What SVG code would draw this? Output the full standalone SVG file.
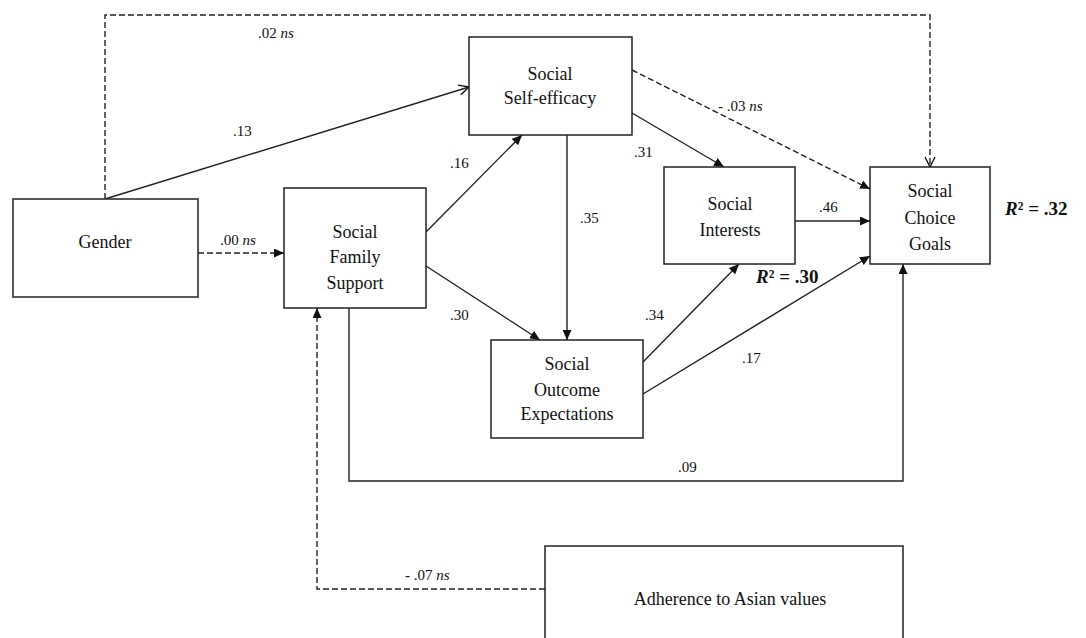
<svg xmlns="http://www.w3.org/2000/svg" width="1086" height="638" viewBox="0 0 1086 638">
<style>
.box{fill:#fff;stroke:#222;stroke-width:1.5}
.nt{font-family:"Liberation Serif","Times New Roman",serif;font-size:18px;fill:#111;text-anchor:middle}
.lb{font-family:"Liberation Serif","Times New Roman",serif;font-size:15px;fill:#111}
.r2{font-family:"Liberation Serif","Times New Roman",serif;font-size:19px;font-weight:bold;fill:#111}
.c{fill:none;stroke:#222;stroke-width:1.4}
.d{stroke-dasharray:6,3}
.f{marker-end:url(#fa)}
.o{marker-end:url(#oa)}
</style>
<defs>
<marker id="fa" markerUnits="userSpaceOnUse" markerWidth="10" markerHeight="9" refX="10" refY="4.5" orient="auto" viewBox="0 0 10 9">
<path d="M0,0 L10,4.5 L0,9 z" fill="#111"/>
</marker>
<marker id="oa" markerUnits="userSpaceOnUse" markerWidth="12" markerHeight="12" refX="11" refY="6" orient="auto" viewBox="0 0 12 12">
<path d="M1,1 L11,6 L1,11" fill="none" stroke="#111" stroke-width="1.4"/>
</marker>
</defs>
<rect width="1086" height="638" fill="#fff"/>
<g id="connectors">
<path class="c d o" d="M105,199 V15 H930 V167"/>
<path class="c o" d="M105,199 L469,87"/>
<path class="c d f" d="M198,253 H284"/>
<path class="c f" d="M426,232 L522,135"/>
<path class="c f" d="M426,266 L540,340"/>
<path class="c f" d="M567,135 V340"/>
<path class="c f" d="M632,113 L724,167"/>
<path class="c d f" d="M632,70 L870,189"/>
<path class="c f" d="M795,221 H870"/>
<path class="c f" d="M643,362 L739,264"/>
<path class="c f" d="M643,394 L870,256"/>
<path class="c f" d="M349,308 V481 H903 V264"/>
<path class="c d f" d="M545,589 H317 V308"/>
</g>
<g id="labels">
<text class="lb" x="258" y="38">.02 <tspan font-style="italic">ns</tspan></text>
<text class="lb" x="233" y="136">.13</text>
<text class="lb" x="450" y="168">.16</text>
<text class="lb" x="220" y="245">.00 <tspan font-style="italic">ns</tspan></text>
<text class="lb" x="450" y="320">.30</text>
<text class="lb" x="580" y="223">.35</text>
<text class="lb" x="634" y="157">.31</text>
<text class="lb" x="718" y="111">- .03 <tspan font-style="italic">ns</tspan></text>
<text class="lb" x="819" y="212">.46</text>
<text class="lb" x="645" y="320">.34</text>
<text class="lb" x="742" y="363">.17</text>
<text class="lb" x="678" y="472">.09</text>
<text class="lb" x="405" y="580">- .07 <tspan font-style="italic">ns</tspan></text>
<text class="r2" x="756" y="283"><tspan font-style="italic">R</tspan>² = .30</text>
<text class="r2" x="1005" y="215"><tspan font-style="italic">R</tspan>² = .32</text>
</g>
<g id="gender">
<rect class="box" x="13" y="199" width="185" height="98"/>
<text class="nt" x="105" y="248">Gender</text>
</g>
<g id="family">
<rect class="box" x="284" y="188" width="142" height="120"/>
<text class="nt" x="355" y="238">Social</text>
<text class="nt" x="355" y="263">Family</text>
<text class="nt" x="355" y="289">Support</text>
</g>
<g id="selfefficacy">
<rect class="box" x="469" y="37" width="163" height="98"/>
<text class="nt" x="550" y="80">Social</text>
<text class="nt" x="550" y="104">Self-efficacy</text>
</g>
<g id="interests">
<rect class="box" x="664" y="167" width="131" height="97"/>
<text class="nt" x="730" y="210">Social</text>
<text class="nt" x="730" y="236">Interests</text>
</g>
<g id="choice">
<rect class="box" x="870" y="167" width="120" height="97"/>
<text class="nt" x="930" y="197">Social</text>
<text class="nt" x="930" y="224">Choice</text>
<text class="nt" x="930" y="250">Goals</text>
</g>
<g id="outcome">
<rect class="box" x="491" y="340" width="152" height="98"/>
<text class="nt" x="567" y="370">Social</text>
<text class="nt" x="567" y="396">Outcome</text>
<text class="nt" x="567" y="420">Expectations</text>
</g>
<g id="adherence">
<rect class="box" x="545" y="546" width="358" height="100"/>
<text class="nt" x="730" y="605">Adherence to Asian values</text>
</g>
</svg>
